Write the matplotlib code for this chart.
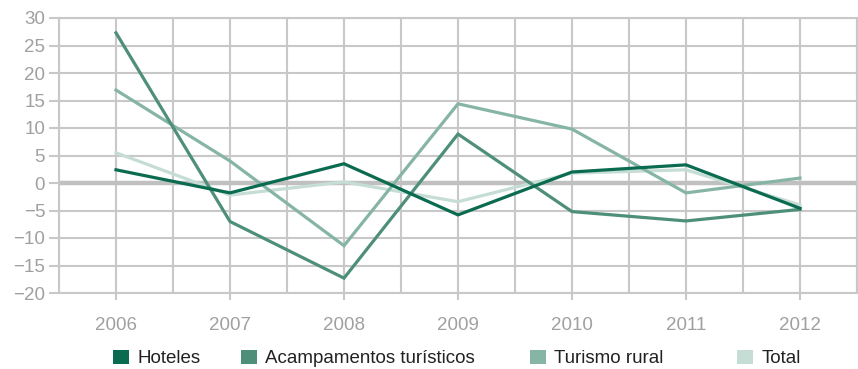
import matplotlib.pyplot as plt
from matplotlib.patches import Patch

years = [2006, 2007, 2008, 2009, 2010, 2011, 2012]
hoteles = [2.4, -1.8, 3.5, -5.8, 2.0, 3.3, -4.6]
acampamentos = [27.3, -7.0, -17.3, 8.9, -5.2, -6.9, -4.8]
turismo_rural = [16.9, 4.0, -11.4, 14.4, 9.8, -1.8, 0.9]
total = [5.5, -2.2, 0.2, -3.4, 1.8, 2.4, -4.0]

labels = ["Hoteles", "Acampamentos turísticos", "Turismo rural", "Total"]
colors = ["#0a6b50", "#4e8f7a", "#86b5a5", "#c5ddd5"]
series = [hoteles, acampamentos, turismo_rural, total]

plt.rcParams['font.family'] = ['Liberation Sans', 'DejaVu Sans']
grid_c = "#c8c8c8"
tick_c = "#a0a0a0"

fig = plt.figure(figsize=(8.58, 3.69), dpi=100)
ax = fig.add_axes([59 / 858, 1 - 293 / 369, 798 / 858, 275 / 369])

# grid: every 5 units vertically, every half year horizontally
for v in range(-20, 31, 5):
    ax.axhline(v, color=grid_c, lw=1.5, zorder=0)
ax.axhline(0, color="#c0c0c0", lw=3.2, zorder=0.5)
for i in range(15):
    ax.axvline(2005.5 + i * 0.5, color=grid_c, lw=1.5, zorder=0)

# draw the lighter series first so the dark ones sit on top
for vals, col in reversed(list(zip(series, colors))):
    ax.plot(years, vals, color=col, lw=2.3, solid_joinstyle='miter', zorder=2)

ax.set_xlim(2005.5, 2012.5)
ax.set_ylim(-20, 30)
ax.set_yticks(range(-20, 31, 5))
ax.set_xticks(years)
ax.tick_params(axis='y', colors=grid_c, labelcolor=tick_c, labelsize=13.5, length=7, width=1.5, pad=3)
ax.tick_params(axis='x', colors=grid_c, labelcolor=tick_c, labelsize=13.5, length=5, width=1.5, pad=12)
for s in ax.spines.values():
    s.set_color(grid_c)
    s.set_linewidth(1.5)

# legend entries placed one by one along the bottom
legend_x = [113, 241, 530, 737]
for lab, col, x in zip(labels, colors, legend_x):
    fig.legend(handles=[Patch(facecolor=col, edgecolor='none')], labels=[lab],
               loc='center left', bbox_to_anchor=(x / 858, 1 - 358.5 / 369),
               frameon=False, fontsize=13.5, handlelength=0.85, handleheight=0.85,
               handletextpad=0.45, borderaxespad=0, borderpad=0,
               labelcolor="#222222")

fig.savefig("out.png", dpi=100)
